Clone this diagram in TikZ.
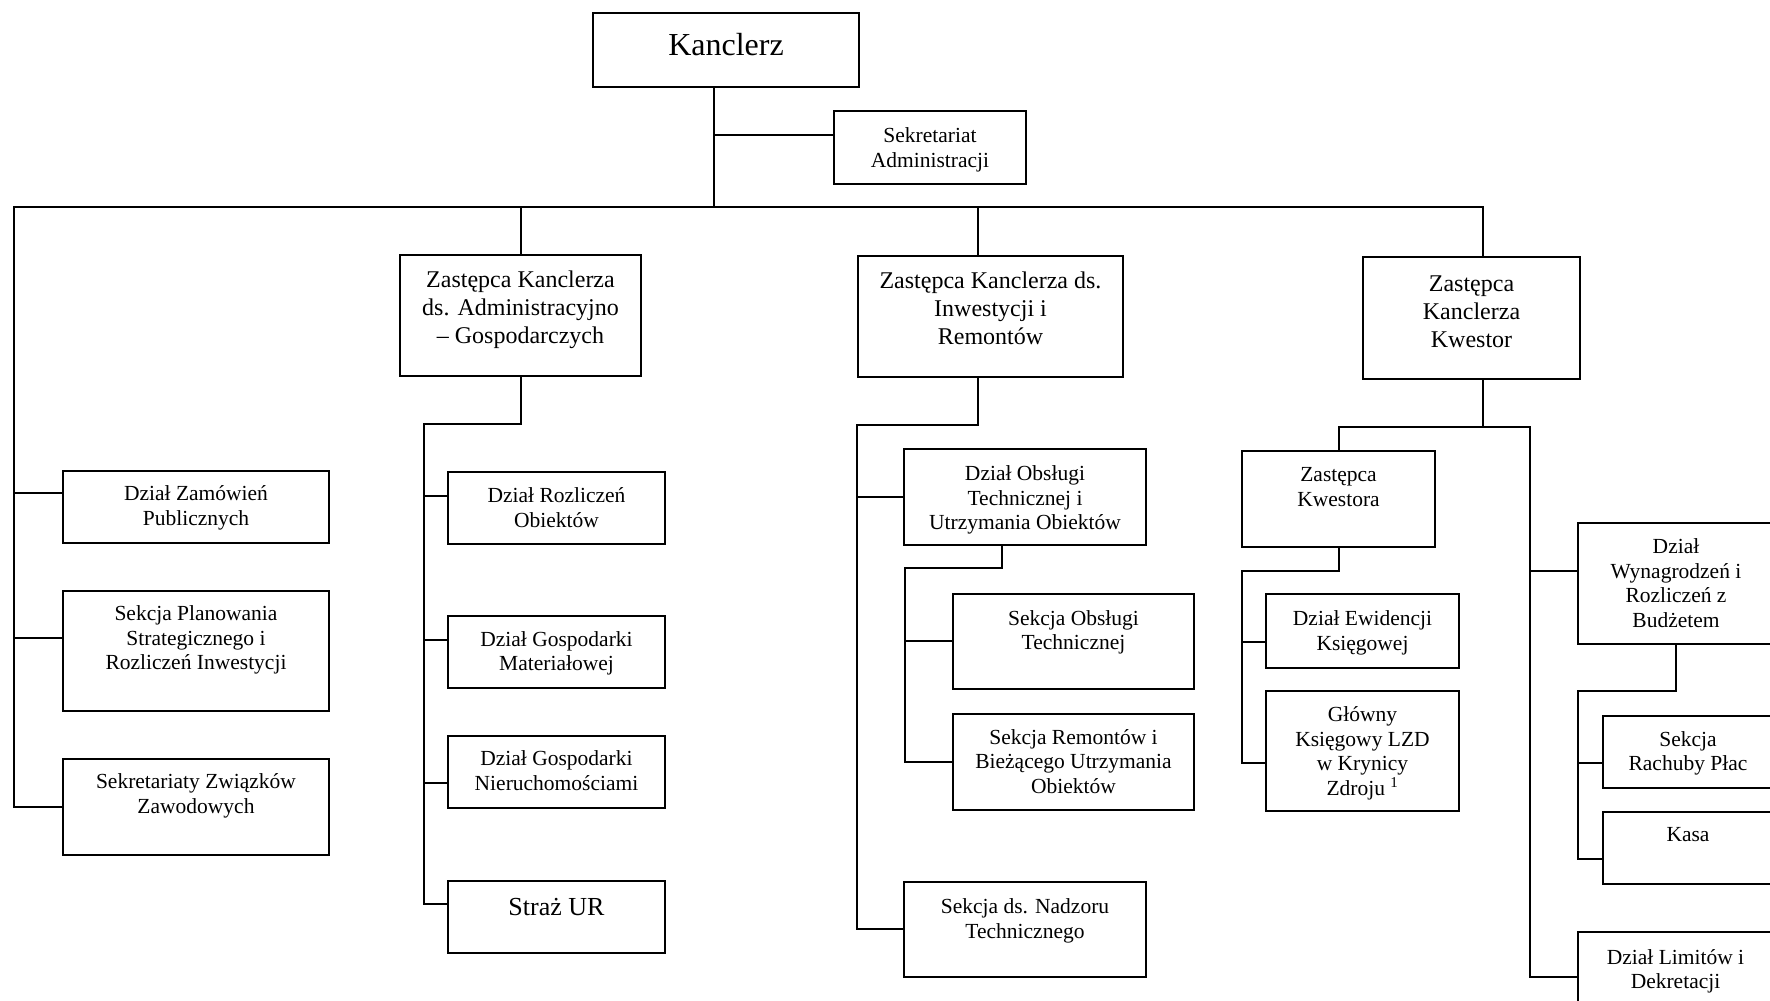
\documentclass[tikz,border=0pt]{standalone}
\usepackage{fontspec}
\setmainfont{Liberation Serif}
\tikzset{
  obox/.style={draw=black, line width=2pt, rectangle, inner sep=0pt, outer sep=0pt, anchor=north west},
  conn/.style={draw=black, line width=1.8pt, line join=miter},
  tsm/.style={font=\fontsize{21.5}{24.5}\selectfont, align=center, inner sep=0pt, anchor=north},
  tmd/.style={font=\fontsize{24}{28}\selectfont, align=center, inner sep=0pt, anchor=north},
  tbg/.style={font=\fontsize{32}{38}\selectfont, align=center, inner sep=0pt, anchor=north},
  tst/.style={font=\fontsize{26}{31}\selectfont, align=center, inner sep=0pt, anchor=north}
}
\newcommand{\ob}[8]{%
  \node[obox, minimum width={(#4)-(#2)}, minimum height={(#5)-(#3)}] (#1) at (#2,#3) {};
  \node[#6] (#1-t) at ([yshift=-#7pt]#1.north) {\strut #8};
}
\begin{document}
\begin{tikzpicture}[x=1pt,y=-1pt]
\useasboundingbox (0,0) rectangle (1770,1001);
\fill[white] (0,0) rectangle (1770,1001);
\clip (0,0) rectangle (1770,1001);

% boxes
\ob{kan}{593}{13}{859}{87}{tbg}{15.4}{Kanclerz}
\ob{sek}{834}{111}{1026}{184}{tsm}{14.5}{Sekretariat\\Administracji}
\ob{adm}{400}{255}{641}{376}{tmd}{12.7}{Zastępca Kanclerza\\ds. Administracyjno\\– Gospodarczych}
\ob{inw}{858}{256}{1123}{377}{tmd}{12.7}{Zastępca Kanclerza ds.\\Inwestycji i\\Remontów}
\ob{kw}{1363}{257}{1580}{379}{tmd}{14.4}{Zastępca\\Kanclerza\\Kwestor}
\ob{zam}{63}{471}{329}{543}{tsm}{12.5}{Dział Zamówień\\Publicznych}
\ob{plan}{63}{591}{329}{711}{tsm}{12.5}{Sekcja Planowania\\Strategicznego i\\Rozliczeń Inwestycji}
\ob{sekz}{63}{759}{329}{855}{tsm}{12.2}{Sekretariaty Związków\\Zawodowych}
\ob{rozl}{448}{472}{665}{544}{tsm}{13.2}{Dział Rozliczeń\\Obiektów}
\ob{mat}{448}{616}{665}{688}{tsm}{12.9}{Dział Gospodarki\\Materiałowej}
\ob{nier}{448}{736}{665}{808}{tsm}{12.5}{Dział Gospodarki\\Nieruchomościami}
\ob{straz}{448}{881}{665}{953}{tst}{12.3}{Straż UR}
\ob{obs}{904}{449}{1146}{545}{tsm}{14.5}{Dział Obsługi\\Technicznej i\\Utrzymania Obiektów}
\ob{sobs}{953}{594}{1194}{689}{tsm}{13.9}{Sekcja Obsługi\\Technicznej}
\ob{srem}{953}{714}{1194}{810}{tsm}{12.9}{Sekcja Remontów i\\Bieżącego Utrzymania\\Obiektów}
\ob{nadz}{904}{882}{1146}{977}{tsm}{14.2}{Sekcja ds. Nadzoru\\Technicznego}
\ob{zkw}{1242}{451}{1435}{547}{tsm}{13.5}{Zastępca\\Kwestora}
\ob{ewid}{1266}{594}{1459}{668}{tsm}{14.5}{Dział Ewidencji\\Księgowej}
\ob{glow}{1266}{691}{1459}{811}{tsm}{13.5}{Główny\\Księgowy LZD\\w Krynicy\\Zdroju \textsuperscript{1}}
\ob{wyn}{1578}{523}{1774}{644}{tsm}{13.2}{Dział\\Wynagrodzeń i\\Rozliczeń z\\Budżetem}
\ob{rach}{1603}{716}{1773}{788}{tsm}{12.9}{Sekcja\\Rachuby Płac}
\ob{kasa}{1603}{812}{1773}{884}{tsm}{12.5}{Kasa}
\ob{lim}{1578}{932}{1773}{1012}{tsm}{14.9}{Dział Limitów i\\Dekretacji}

% top connectors
\coordinate (kv) at (714,207);
\coordinate (kvs) at (714,135);
\draw[conn] (kan.south -| kv) -- (kv);
\draw[conn] (kvs) -- (sek.west |- kvs);

% main bus and left column
\coordinate (busL) at (14,207);
\coordinate (busA) at (521,207);
\coordinate (busI) at (978,207);
\coordinate (busK) at (1483,207);
\coordinate (lz) at (14,493);
\coordinate (lp) at (14,638);
\coordinate (ls) at (14,807);
\draw[conn] (sekz.west |- ls) -- (ls) -- (busL) -- (busK) -- (kw.north -| busK);
\draw[conn] (busA) -- (adm.north -| busA);
\draw[conn] (busI) -- (inw.north -| busI);
\draw[conn] (lz) -- (zam.west |- lz);
\draw[conn] (lp) -- (plan.west |- lp);

% administration group
\coordinate (a1) at (521,424);
\coordinate (a2) at (424,424);
\coordinate (a3) at (424,904);
\coordinate (ar) at (424,496);
\coordinate (am) at (424,640);
\coordinate (an) at (424,783);
\draw[conn] (adm.south -| a1) -- (a1) -- (a2) -- (a3) -- (straz.west |- a3);
\draw[conn] (ar) -- (rozl.west |- ar);
\draw[conn] (am) -- (mat.west |- am);
\draw[conn] (an) -- (nier.west |- an);

% investments group
\coordinate (i1) at (978,425);
\coordinate (i2) at (857,425);
\coordinate (i3) at (857,929);
\coordinate (io) at (857,497);
\draw[conn] (inw.south -| i1) -- (i1) -- (i2) -- (i3) -- (nadz.west |- i3);
\draw[conn] (io) -- (obs.west |- io);
\coordinate (o1) at (1002,568);
\coordinate (o2) at (905,568);
\coordinate (o3) at (905,762);
\coordinate (os) at (905,641);
\draw[conn] (obs.south -| o1) -- (o1) -- (o2) -- (o3) -- (srem.west |- o3);
\draw[conn] (os) -- (sobs.west |- os);

% quaestor group
\coordinate (k1) at (1483,427);
\coordinate (k2) at (1339,427);
\coordinate (k3) at (1530,427);
\coordinate (k4) at (1530,977);
\coordinate (kwy) at (1530,571);
\draw[conn] (kw.south -| k1) -- (k1);
\draw[conn] (zkw.north -| k2) -- (k2) -- (k3) -- (k4) -- (lim.west |- k4);
\draw[conn] (kwy) -- (wyn.west |- kwy);
\coordinate (z1) at (1339,571);
\coordinate (z2) at (1242,571);
\coordinate (z3) at (1242,763);
\coordinate (ze) at (1242,642);
\draw[conn] (zkw.south -| z1) -- (z1) -- (z2) -- (z3) -- (glow.west |- z3);
\draw[conn] (ze) -- (ewid.west |- ze);
\coordinate (w1) at (1676,691);
\coordinate (w2) at (1578,691);
\coordinate (w3) at (1578,859);
\coordinate (wr) at (1578,763);
\draw[conn] (wyn.south -| w1) -- (w1) -- (w2) -- (w3) -- (kasa.west |- w3);
\draw[conn] (wr) -- (rach.west |- wr);
\end{tikzpicture}
\end{document}
